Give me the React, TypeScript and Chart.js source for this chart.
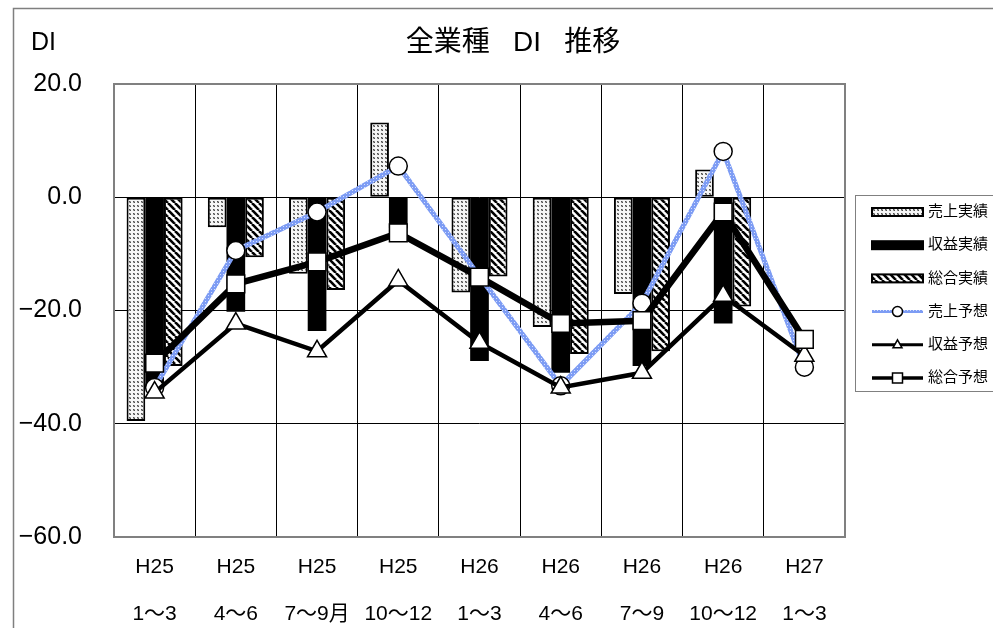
import { useEffect, useRef } from "react";
import { Chart, registerables } from "chart.js";

Chart.register(...registerables);

const FONT = "'Liberation Sans', 'Noto Sans CJK JP', sans-serif";

// Period labels (year row / month row)
const periodYears = ["H25", "H25", "H25", "H25", "H26", "H26", "H26", "H26", "H27"];
const periodMonths = ["1〜3", "4〜6", "7〜9月", "10〜12", "1〜3", "4〜6", "7〜9", "10〜12", "1〜3"];

// Y axis ticks
const yTicks = [-60, -40, -20, 0, 20];

// Series names
const seriesNames = ["売上実績", "収益実績", "総合実績", "売上予想", "収益予想", "総合予想"];

// Actual DI (bars)
const salesActual = [-39.5, -5.3, -13.5, 13.2, -16.8, -22.9, -17.1, 4.9, null];
const profitActual = [-33.5, -20.2, -23.6, -5.5, -28.9, -31.0, -29.8, -22.3, null];
const overallActual = [-29.8, -10.6, -16.4, 0, -14.0, -27.7, -27.2, -19.3, null];

// Forecast DI (lines)
const salesForecast = [-33.6, -9.4, -2.6, 5.5, -14.0, -33.3, -18.7, 8.1, -30.0];
const profitForecast = [-34.5, -22.3, -27.2, -14.7, -25.7, -33.6, -31.0, -17.4, -28.0];
const overallForecast = [-29.3, -15.3, -11.4, -6.3, -14.1, -22.3, -21.8, -2.6, -25.1];

const chartTitle = "全業種   DI   推移";
const yAxisTitle = "DI";

function makeDotPattern(ctx: CanvasRenderingContext2D) {
  const c = document.createElement("canvas");
  c.width = 4;
  c.height = 4;
  const g = c.getContext("2d")!;
  g.fillStyle = "#f6f6f6";
  g.fillRect(0, 0, 4, 4);
  g.fillStyle = "#9a9a9a";
  g.fillRect(1, 1, 2, 2);
  g.fillStyle = "#505050";
  g.fillRect(1, 1, 1, 1);
  g.fillRect(2, 2, 1, 1);
  return ctx.createPattern(c, "repeat")!;
}

function makeStripePattern(ctx: CanvasRenderingContext2D) {
  const c = document.createElement("canvas");
  c.width = 7;
  c.height = 7;
  const g = c.getContext("2d")!;
  g.fillStyle = "#ffffff";
  g.fillRect(0, 0, 7, 7);
  g.strokeStyle = "#000000";
  g.lineWidth = 2.6;
  for (const k of [-7, 0, 7]) {
    g.beginPath();
    g.moveTo(k, 0);
    g.lineTo(k + 7, 7);
    g.stroke();
  }
  return ctx.createPattern(c, "repeat")!;
}

function makeBluePattern(ctx: CanvasRenderingContext2D) {
  const c = document.createElement("canvas");
  c.width = 3;
  c.height = 3;
  const g = c.getContext("2d")!;
  g.fillStyle = "#7d9cf4";
  g.fillRect(0, 0, 3, 3);
  g.fillStyle = "#d6e0fc";
  g.fillRect(1, 1, 1, 1);
  return ctx.createPattern(c, "repeat")!;
}

function fmtTick(v: number) {
  return (v < 0 ? "−" : "") + Math.abs(v).toFixed(1);
}

export default function App() {
  const canvasRef = useRef<HTMLCanvasElement | null>(null);

  useEffect(() => {
    const canvas = canvasRef.current;
    if (!canvas) return;
    const ctx = canvas.getContext("2d")!;
    const dots = makeDotPattern(ctx);
    const stripes = makeStripePattern(ctx);
    const blue = makeBluePattern(ctx);

    const frame = {
      id: "frame",
      beforeDraw(chart: any) {
        const c = chart.ctx;
        c.save();
        c.fillStyle = "#ffffff";
        c.fillRect(0, 0, chart.width, chart.height);
        c.strokeStyle = "#7f7f7f";
        c.lineWidth = 1.5;
        c.strokeRect(13.5, 8.5, 1100, 800);
        c.fillStyle = "#000";
        c.textBaseline = "middle";
        c.textAlign = "center";
        c.font = `28px ${FONT}`;
        c.fillText(chartTitle, 513, 43);
        c.textAlign = "left";
        c.font = `25px ${FONT}`;
        c.fillText(yAxisTitle, 31, 43);
        c.restore();
      },
      beforeDatasetsDraw(chart: any) {
        const a = chart.chartArea;
        const c = chart.ctx;
        c.save();
        c.strokeStyle = "#808080";
        c.lineWidth = 2;
        c.strokeRect(a.left, a.top, a.right - a.left, a.bottom - a.top);
        c.restore();
      },
      afterDraw(chart: any) {
        const c = chart.ctx;
        c.save();
        c.strokeStyle = "#808080";
        c.lineWidth = 1;
        c.strokeRect(855.5, 195.5, 200, 196);
        const x0 = 872;
        const x1 = 923;
        const xm = (x0 + x1) / 2;
        seriesNames.forEach((name, i) => {
          const y = 212 + i * 33.2;
          if (i < 3) {
            c.fillStyle = i === 0 ? dots : i === 1 ? "#000" : stripes;
            c.fillRect(x0, y - 4, x1 - x0, 8);
            c.strokeStyle = "#000";
            c.lineWidth = 2;
            c.strokeRect(x0, y - 4, x1 - x0, 8);
          } else {
            c.beginPath();
            c.moveTo(x0, y);
            c.lineTo(x1, y);
            c.strokeStyle = i === 3 ? blue : "#000";
            c.lineWidth = i === 3 ? 3 : i === 4 ? 3 : 3.5;
            c.stroke();
            c.fillStyle = "#fff";
            c.strokeStyle = "#000";
            c.lineWidth = 1.5;
            c.beginPath();
            if (i === 3) {
              c.arc(xm, y, 5, 0, Math.PI * 2);
            } else if (i === 4) {
              c.moveTo(xm, y - 5);
              c.lineTo(xm + 4.5, y + 3);
              c.lineTo(xm - 4.5, y + 3);
              c.closePath();
            } else {
              c.rect(xm - 5, y - 5, 10, 10);
            }
            c.fill();
            c.stroke();
          }
          c.fillStyle = "#000";
          c.textAlign = "left";
          c.textBaseline = "middle";
          c.font = `15px ${FONT}`;
          c.fillText(name, 928, y);
        });
        c.restore();
      },
    };

    const labels = periodYears.map((y, i) => [y, periodMonths[i]]);

    const chart = new Chart(canvas, {
      type: "bar",
      data: {
        labels,
        datasets: [
          {
            type: "bar",
            label: seriesNames[0],
            data: salesActual,
            backgroundColor: dots,
            borderColor: "#000",
            borderWidth: 2,
            borderSkipped: false,
            order: 10,
          },
          {
            type: "bar",
            label: seriesNames[1],
            data: profitActual,
            backgroundColor: "#000",
            borderColor: "#000",
            borderWidth: 0,
            order: 11,
          },
          {
            type: "bar",
            label: seriesNames[2],
            data: overallActual,
            backgroundColor: stripes,
            borderColor: "#000",
            borderWidth: 2,
            borderSkipped: false,
            order: 12,
          },
          {
            type: "line",
            label: seriesNames[3],
            data: salesForecast,
            borderColor: blue,
            borderWidth: 5,
            tension: 0,
            pointStyle: "circle",
            pointRadius: 9,
            pointBorderWidth: 1.5,
            pointBackgroundColor: "#fff",
            pointBorderColor: "#000",
            order: 3,
          },
          {
            type: "line",
            label: seriesNames[4],
            data: profitForecast,
            borderColor: "#000",
            borderWidth: 4.5,
            tension: 0,
            pointStyle: "triangle",
            pointRadius: 11,
            pointBorderWidth: 1.5,
            pointBackgroundColor: "#fff",
            pointBorderColor: "#000",
            order: 2,
          },
          {
            type: "line",
            label: seriesNames[5],
            data: overallForecast,
            borderColor: "#000",
            borderWidth: 6.5,
            tension: 0,
            pointStyle: "rect",
            pointRadius: 12.5,
            pointBorderWidth: 1.5,
            pointBackgroundColor: "#fff",
            pointBorderColor: "#000",
            order: 1,
          },
        ] as any,
      },
      options: {
        responsive: false,
        animation: false,
        devicePixelRatio: 1,
        events: [],
        layout: { padding: { left: 0, top: 84, right: 148, bottom: 0 } },
        datasets: {
          bar: { categoryPercentage: 0.69, barPercentage: 1 },
        } as any,
        plugins: {
          legend: { display: false },
          title: { display: false },
          tooltip: { enabled: false },
        },
        scales: {
          x: {
            offset: true,
            grid: { color: "#000", lineWidth: 1, drawTicks: false, offset: true },
            border: { display: false },
            ticks: {
              color: "#000",
              padding: 7,
              font: { family: FONT, size: 21, lineHeight: 47 / 21 },
              maxRotation: 0,
              autoSkip: false,
            },
            afterFit(scale: any) {
              scale.height = 91;
            },
          },
          y: {
            min: -60,
            max: 20,
            afterBuildTicks(scale: any) {
              scale.ticks = yTicks.map((v) => ({ value: v }));
            },
            grid: {
              drawTicks: false,
              lineWidth: 1,
              color: (c: any) =>
                c.tick && (c.tick.value === 20 || c.tick.value === -60) ? "rgba(0,0,0,0)" : "#000",
            },
            border: { display: false },
            ticks: {
              color: "#000",
              padding: 32,
              font: { family: FONT, size: 25 },
              callback: (v: any) => fmtTick(Number(v)),
            },
            afterFit(scale: any) {
              scale.width = 114;
            },
          },
        },
      },
      plugins: [frame],
    });

    return () => chart.destroy();
  }, []);

  return (
    <div style={{ position: "absolute", left: 0, top: 0, width: 993, height: 628, background: "#fff" }}>
      <canvas ref={canvasRef} width={993} height={628} style={{ display: "block" }} />
    </div>
  );
}
